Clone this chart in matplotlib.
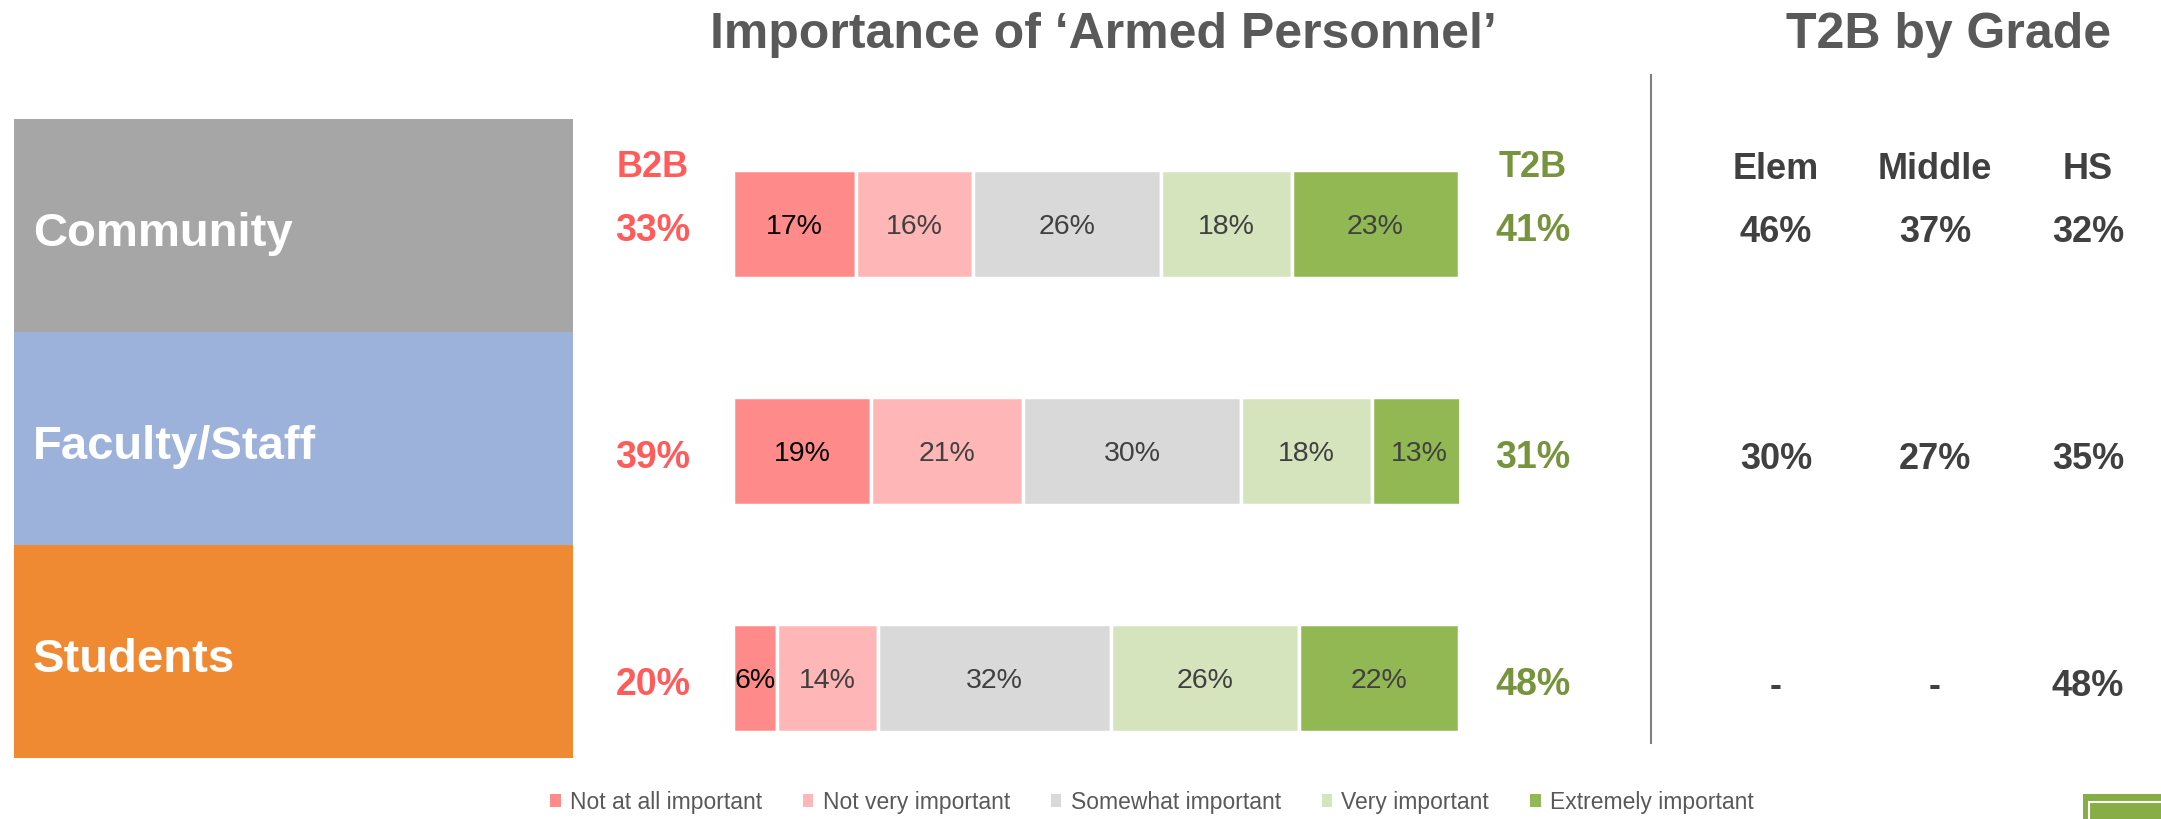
import numpy as np
import matplotlib
matplotlib.use("Agg")
import matplotlib.pyplot as plt
import matplotlib.transforms as mtransforms
from matplotlib.patches import Patch, Rectangle
from matplotlib.lines import Line2D

plt.rcParams['font.family'] = ['Liberation Sans', 'DejaVu Sans']

groups = ['Community', 'Faculty/Staff', 'Students']
group_colors = ['#A6A6A6', '#9DB2DB', '#F08A32']
levels = ['Not at all important', 'Not very important', 'Somewhat important',
          'Very important', 'Extremely important']
level_colors = ['#FF8A8A', '#FFB6B6', '#D9D9D9', '#D6E4BD', '#92B854']
shares = np.array([[17, 16, 26, 18, 23],
                   [19, 21, 30, 18, 13],
                   [6, 14, 32, 26, 22]])
b2b = [33, 39, 20]
t2b = [41, 31, 48]
grades = ['Elem', 'Middle', 'HS']
grade_t2b = [['46%', '37%', '32%'],
             ['30%', '27%', '35%'],
             ['-', '-', '48%']]

W, H = 2161, 820
fig = plt.figure(figsize=(W / 100, H / 100), dpi=100)

# left coloured category boxes
axl = fig.add_axes([14 / W, (H - 759) / H, 559 / W, 639 / H])
ypos = np.arange(len(groups))
axl.barh(ypos, 1, height=1.0, color=group_colors)
axl.set_xlim(0, 1)
axl.set_ylim(2.5, -0.5)
axl.axis('off')
for i, g in enumerate(groups):
    axl.text(19 / 559, i + 0.035, g, color='white', fontsize=34, fontweight='bold',
             va='center', ha='left', transform=axl.get_yaxis_transform())

# stacked bars
ax = fig.add_axes([733 / W, (H - 792.5) / H, 726 / W, 681 / H])
left = np.zeros(len(groups))
for j, lev in enumerate(levels):
    ax.barh(ypos, shares[:, j], left=left, height=0.48, color=level_colors[j],
            edgecolor='white', linewidth=2.5, label=lev)
    for i in range(len(groups)):
        ax.text(left[i] + shares[i, j] / 2, i + 0.01, f'{shares[i, j]}%',
                ha='center', va='center', fontsize=20.5,
                color='black' if j == 0 else '#404040')
    left += shares[:, j]
ax.set_xlim(0, 100)
ax.set_ylim(2.5, -0.5)
ax.axis('off')

trans = mtransforms.blended_transform_factory(fig.transFigure, ax.transData)
red, green, dark = '#FF5B5B', '#77933C', '#404040'
ax.text(653 / W, -0.255, 'B2B', transform=trans, ha='center', va='center',
        fontsize=26, fontweight='bold', color=red)
ax.text(1533 / W, -0.255, 'T2B', transform=trans, ha='center', va='center',
        fontsize=26, fontweight='bold', color=green)
for i in range(len(groups)):
    ax.text(653 / W, i + 0.025, f'{b2b[i]}%', transform=trans, ha='center',
            va='center', fontsize=27, fontweight='bold', color=red)
    ax.text(1533 / W, i + 0.025, f'{t2b[i]}%', transform=trans, ha='center',
            va='center', fontsize=27, fontweight='bold', color=green)

grade_x = [1776, 1935, 2088]
for k, g in enumerate(grades):
    ax.text(grade_x[k] / W, -0.245, g, transform=trans, ha='center', va='center',
            fontsize=26, fontweight='bold', color=dark)
    for i in range(len(groups)):
        ax.text(grade_x[k] / W, i + 0.035, grade_t2b[i][k], transform=trans,
                ha='center', va='center', fontsize=26, fontweight='bold', color=dark)

# titles
fig.text(1103 / W, 1 - 35 / H, 'Importance of \u2018Armed Personnel\u2019', ha='center',
         va='center', fontsize=36, fontweight='bold', color='#595959')
fig.text(1949 / W, 1 - 35 / H, 'T2B by Grade', ha='center', va='center',
         fontsize=36, fontweight='bold', color='#595959')

# divider
fig.add_artist(Line2D([1651 / W, 1651 / W], [1 - 76 / H, 1 - 744 / H],
                      transform=fig.transFigure, color='#7F7F7F', lw=1.5))

# legend
handles = [Patch(facecolor=c, label=l) for c, l in zip(level_colors, levels)]
fig.legend(handles=handles, loc='center', bbox_to_anchor=(1152 / W, 1 - 803 / H),
           ncol=5, frameon=False, fontsize=16.5, handlelength=0.45, handleheight=0.5,
           handletextpad=0.4, columnspacing=1.8, labelcolor='#595959')

# logo corner
fig.add_artist(Rectangle((2083 / W, 0), 90 / W, 25 / H, transform=fig.transFigure,
                         facecolor='#86AE45', edgecolor='none'))
fig.add_artist(Rectangle((2089 / W, -0.01), 90 / W, 25 / H, transform=fig.transFigure,
                         facecolor='none', edgecolor='white', lw=1.5))

fig.savefig('out.png', dpi=100)
